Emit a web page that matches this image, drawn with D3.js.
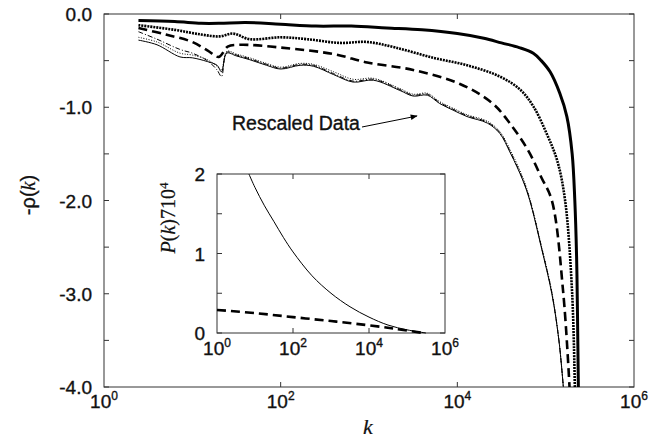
<!DOCTYPE html>
<html>
<head>
<meta charset="UTF-8">
<script src="https://d3js.org/d3.v7.min.js"></script>
<style>
  body { margin: 0; background: #fff; }
  text { font-family: "Liberation Sans", Arial, sans-serif; fill: #111; stroke: #111; stroke-width: 0.35px; }
  .serif { font-family: "Liberation Serif", "Times New Roman", serif; stroke-width: 0.2px; }
</style>
</head>
<body>
<svg width="663" height="438"></svg>
<script>
// main panel: -rho(k) against k, x given as log10(k)
var thickSolidLog = [0.39, 0.8, 1.1, 1.31, 1.6, 2.0, 2.4, 2.8, 3.2, 3.6, 4.0, 4.3, 4.5, 4.7, 4.86, 4.95, 5.05, 5.16, 5.24, 5.3, 5.33, 5.35, 5.36, 5.37];
var thickSolidVal = [-0.07, -0.08, -0.1, -0.1, -0.09, -0.11, -0.13, -0.13, -0.15, -0.17, -0.21, -0.26, -0.31, -0.36, -0.42, -0.5, -0.62, -0.85, -1.1, -1.5, -2.0, -2.6, -3.2, -4.0];

var beadLog = [0.39, 0.8, 1.1, 1.31, 1.46, 1.65, 2.0, 2.3, 2.67, 2.98, 3.3, 3.73, 4.11, 4.48, 4.71, 4.86, 5.01, 5.13, 5.22, 5.3, 5.33];
var beadVal = [-0.12, -0.17, -0.22, -0.24, -0.21, -0.27, -0.25, -0.27, -0.31, -0.3, -0.36, -0.47, -0.55, -0.67, -0.81, -0.99, -1.28, -1.57, -2.0, -3.0, -4.0];

var dashLog = [0.39, 0.7, 1.0, 1.17, 1.3, 1.4, 1.54, 2.0, 2.6, 2.98, 3.5, 4.03, 4.4, 4.6, 4.8, 4.95, 5.07, 5.2, 5.27];
var dashVal = [-0.15, -0.22, -0.3, -0.39, -0.46, -0.35, -0.33, -0.36, -0.43, -0.52, -0.6, -0.75, -0.96, -1.18, -1.46, -1.75, -2.0, -3.0, -4.0];

var thinLog = [0.39, 0.6, 0.86, 1.0, 1.17, 1.28, 1.33, 1.39, 1.5, 1.65, 1.84, 2.0, 2.22, 2.37, 2.6, 2.82, 3.05, 3.35, 3.5, 3.66, 3.8, 3.95, 4.11, 4.34, 4.48, 4.6, 4.74, 4.82, 4.95, 5.07, 5.15, 5.2];
var thinSolidVal = [-0.28, -0.33, -0.46, -0.47, -0.51, -0.55, -0.62, -0.42, -0.45, -0.49, -0.55, -0.59, -0.55, -0.56, -0.65, -0.73, -0.71, -0.82, -0.88, -0.87, -0.96, -1.03, -1.1, -1.17, -1.28, -1.49, -1.78, -2.0, -2.5, -3.0, -3.5, -4.0];
var thinDotVal = [-0.25, -0.3, -0.42, -0.44, -0.49, -0.56, -0.6, -0.4, -0.43, -0.47, -0.53, -0.57, -0.53, -0.54, -0.62, -0.7, -0.69, -0.8, -0.86, -0.85, -0.94, -1.01, -1.08, -1.15, -1.26, -1.46, -1.75, -1.98, -2.48, -2.98, -3.5, -4.0];
var thinDashDotVal = [-0.19, -0.27, -0.38, -0.42, -0.5, -0.6, -0.67, -0.41, -0.44, -0.48, -0.54, -0.58, -0.54, -0.55, -0.64, -0.72, -0.7, -0.81, -0.87, -0.86, -0.95, -1.02, -1.09, -1.16, -1.27, -1.48, -1.77, -1.99, -2.49, -2.99, -3.5, -4.0];

// inset: P(k) x 10^4
var insetSolidLog = [0.84, 1.0, 1.25, 1.5, 1.75, 2.0, 2.5, 3.0, 3.5, 4.0, 4.5, 5.0, 5.5];
var insetSolidVal = [2.0, 1.83, 1.6, 1.4, 1.2, 1.02, 0.72, 0.5, 0.33, 0.2, 0.1, 0.04, 0.0];
var insetDashLog = [0, 1.0, 2.0, 3.0, 3.94, 4.73, 5.43];
var insetDashVal = [0.29, 0.25, 0.2, 0.15, 0.1, 0.05, 0.0];

var xTickExp = [0, 2, 4, 6];
var yTickVals = [0, -1, -2, -3, -4];
var yTickLabels = ["0.0", "-1.0", "-2.0", "-3.0", "-4.0"];
var yMinorVals = [-0.5, -1.5, -2.5, -3.5];
var insetYTicks = [0, 1, 2];
var insetYMinor = [0.5, 1.5];

var svg = d3.select("svg");

var x = d3.scaleLog().domain([1, 1e6]).range([104, 634]);
var y = d3.scaleLinear().domain([-4, 0]).range([387, 14]);

function zip(lx, ly) { return lx.map(function(v, i) { return [Math.pow(10, v), ly[i]]; }); }

function frame(g, xs, ys, xt, ymaj, ymin, tick) {
  var x0 = xs.range()[0], x1 = xs.range()[1], y0 = ys.range()[0], y1 = ys.range()[1];
  g.append("rect").attr("x", x0).attr("y", y1).attr("width", x1 - x0).attr("height", y0 - y1)
    .attr("fill", "#fff").attr("stroke", "#333").attr("stroke-width", 1);
  xt.forEach(function(e) {
    var px = xs(Math.pow(10, e));
    g.append("line").attr("x1", px).attr("x2", px).attr("y1", y0).attr("y2", y0 - tick).attr("stroke", "#333");
    g.append("line").attr("x1", px).attr("x2", px).attr("y1", y1).attr("y2", y1 + tick).attr("stroke", "#333");
  });
  ymaj.concat(ymin).forEach(function(v) {
    var py = ys(v);
    g.append("line").attr("x1", x0).attr("x2", x0 + tick).attr("y1", py).attr("y2", py).attr("stroke", "#333");
    g.append("line").attr("x1", x1).attr("x2", x1 - tick).attr("y1", py).attr("y2", py).attr("stroke", "#333");
  });
}

function powLabels(g, xs, baseline, size) {
  xTickExp.forEach(function(e) {
    var t = g.append("text").attr("x", xs(Math.pow(10, e))).attr("y", baseline)
      .attr("text-anchor", "middle").style("font-size", size + "px");
    t.append("tspan").text("10");
    t.append("tspan").attr("dy", -8).style("font-size", "12px").text(e);
  });
}

// main frame
var main = svg.append("g");
frame(main, x, y, xTickExp.slice(1, 3), yTickVals, yMinorVals, 5);

yTickVals.forEach(function(v, i) {
  main.append("text").attr("x", 92).attr("y", y(v) + 7).attr("text-anchor", "end")
    .style("font-size", "19px").text(yTickLabels[i]);
});
powLabels(main, x, 408, 19);

main.append("text").attr("class", "serif").attr("x", 368).attr("y", 434)
  .attr("text-anchor", "middle").style("font-size", "22px").style("font-style", "italic").text("k");

var yl = main.append("text").attr("transform", "translate(35,195) rotate(-90)")
  .attr("text-anchor", "middle").style("font-size", "20px");
yl.append("tspan").text("-\u03c1(");
yl.append("tspan").attr("class", "serif").style("font-style", "italic").text("k");
yl.append("tspan").text(")");

var line = d3.line().x(function(d) { return x(d[0]); }).y(function(d) { return y(d[1]); })
  .curve(d3.curveCatmullRom.alpha(0.5));

var series = [
  { d: zip(thinLog, thinSolidVal), w: 1, dash: null },
  { d: zip(thinLog, thinDotVal), w: 1, dash: "1,1.6" },
  { d: zip(thinLog, thinDashDotVal), w: 1, dash: "5,2,1,2" },
  { d: zip(dashLog, dashVal), w: 2.6, dash: "9,5" },
  { d: zip(beadLog, beadVal), w: 2.6, dash: "2,1" },
  { d: zip(thickSolidLog, thickSolidVal), w: 3, dash: null }
];
series.forEach(function(s) {
  main.append("path").datum(s.d).attr("d", line).attr("fill", "none")
    .attr("stroke", "#000").attr("stroke-width", s.w).attr("stroke-dasharray", s.dash);
});

// annotation
main.append("text").attr("x", 232).attr("y", 130).style("font-size", "19.5px").text("Rescaled Data");
main.append("defs").append("marker").attr("id", "ah").attr("viewBox", "0 0 10 10")
  .attr("refX", 9).attr("refY", 5).attr("markerWidth", 9).attr("markerHeight", 7).attr("orient", "auto")
  .append("path").attr("d", "M0,1 L10,5 L0,9 Z").attr("fill", "#000");
main.append("line").attr("x1", 362).attr("y1", 127).attr("x2", 417).attr("y2", 116)
  .attr("stroke", "#000").attr("stroke-width", 1).attr("marker-end", "url(#ah)");

// inset
var ix = d3.scaleLog().domain([1, 1e6]).range([217, 445]);
var iy = d3.scaleLinear().domain([0, 2]).range([333, 174]);
var inset = svg.append("g");
frame(inset, ix, iy, xTickExp.slice(1, 3), insetYTicks, insetYMinor, 5);
insetYTicks.forEach(function(v) {
  inset.append("text").attr("x", 205).attr("y", iy(v) + 7).attr("text-anchor", "end")
    .style("font-size", "19px").text(v);
});
powLabels(inset, ix, 355, 19);

var il = inset.append("text").attr("class", "serif").attr("transform", "translate(175,218) rotate(-90)")
  .attr("text-anchor", "middle").style("font-size", "20px");
il.append("tspan").style("font-style", "italic").text("P");
il.append("tspan").text("(");
il.append("tspan").style("font-style", "italic").text("k");
il.append("tspan").text(")710");
il.append("tspan").attr("dy", -7).style("font-size", "13px").text("4");

var iline = d3.line().x(function(d) { return ix(d[0]); }).y(function(d) { return iy(d[1]); })
  .curve(d3.curveCatmullRom.alpha(0.5));
inset.append("path").datum(zip(insetSolidLog, insetSolidVal)).attr("d", iline)
  .attr("fill", "none").attr("stroke", "#000").attr("stroke-width", 1);
inset.append("path").datum(zip(insetDashLog, insetDashVal)).attr("d", iline)
  .attr("fill", "none").attr("stroke", "#000").attr("stroke-width", 2.6).attr("stroke-dasharray", "9,5");
</script>
</body>
</html>
